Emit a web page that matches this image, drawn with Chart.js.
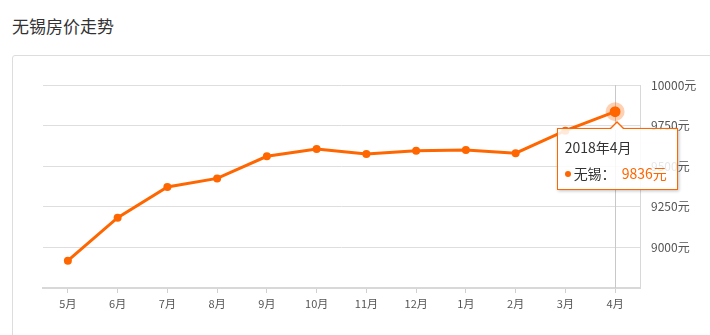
<!DOCTYPE html>
<html>
<head>
<meta charset="utf-8">
<script src="https://cdn.jsdelivr.net/npm/chart.js@4.4.0/dist/chart.umd.min.js"></script>
<style>
  html, body { margin:0; padding:0; width:710px; height:335px; overflow:hidden; background:#fff; font-family:"Noto Sans CJK SC", sans-serif; }
  #title { position:absolute; left:12px; top:14px; font-size:17px; color:#333; line-height:24px; }
  #card { position:absolute; left:12px; top:55px; width:730px; height:320px; border:1px solid #ddd; border-radius:3px; box-sizing:border-box; }
  #c { position:absolute; left:0; top:0; }
  #tip { position:absolute; display:none; width:121px; height:62px; box-sizing:border-box; background:rgba(255,255,255,0.86); border:1px solid #ff6600; box-shadow:1px 1px 3px rgba(0,0,0,0.25); font-size:14px; color:#333; pointer-events:none; }
  #tip:before, #tip:after { content:""; position:absolute; left:50%; width:0; height:0; border-style:solid; }
  #tip:before { top:-8px; margin-left:-8px; border-width:0 8px 8px 8px; border-color:transparent transparent #ff6600 transparent; }
  #tip:after { top:-6px; margin-left:-7px; border-width:0 7px 7px 7px; border-color:transparent transparent #fff transparent; }
  #tip .t { position:absolute; left:7px; top:8px; line-height:20px; white-space:nowrap; }
  #tip .b { position:absolute; left:7px; top:34px; line-height:20px; white-space:nowrap; }
  #tip .dot { display:inline-block; width:6px; height:6px; border-radius:3px; background:#ff6600; vertical-align:middle; margin-right:3px; margin-top:-2px; }
  #tip .v { color:#ff6600; margin-left:6px; }
</style>
</head>
<body>
<div id="title">无锡房价走势</div>
<div id="card"></div>
<canvas id="c" width="710" height="335"></canvas>
<div id="tip"></div>
<script>
const categories = ["5月","6月","7月","8月","9月","10月","11月","12月","1月","2月","3月","4月"];
const tooltipTitles = ["2017年5月","2017年6月","2017年7月","2017年8月","2017年9月","2017年10月","2017年11月","2017年12月","2018年1月","2018年2月","2018年3月","2018年4月"];
const seriesName = "无锡";
const prices = [8918, 9183, 9372, 9425, 9561, 9606, 9575, 9595, 9600, 9580, 9719, 9836];
const yTicks = [9000, 9250, 9500, 9750, 10000];
const unit = "元";
const activeIndex = 11;

const ORANGE = "#ff6600";

const crosshair = {
  id: "crosshair",
  beforeDatasetsDraw(chart) {
    const act = chart.getActiveElements();
    if (!act.length) return;
    const x = act[0].element.x;
    const {top, bottom} = chart.chartArea;
    const ctx = chart.ctx;
    ctx.save();
    ctx.strokeStyle = "#c8c8c8";
    ctx.lineWidth = 1;
    ctx.beginPath();
    ctx.moveTo(Math.round(x) + 0.5, top);
    ctx.lineTo(Math.round(x) + 0.5, bottom);
    ctx.stroke();
    ctx.restore();
  },
  afterDatasetsDraw(chart) {
    const act = chart.getActiveElements();
    if (!act.length) return;
    const el = act[0].element;
    const ctx = chart.ctx;
    ctx.save();
    ctx.strokeStyle = "rgba(255,102,0,0.3)";
    ctx.lineWidth = 4;
    ctx.beginPath();
    ctx.arc(el.x, el.y, 7.5, 0, Math.PI * 2);
    ctx.stroke();
    ctx.restore();
  }
};

function externalTip(context) {
  const tip = document.getElementById("tip");
  const tm = context.tooltip;
  if (tm.opacity === 0 || !tm.dataPoints || !tm.dataPoints.length) { tip.style.display = "none"; return; }
  const dp = tm.dataPoints[0];
  tip.innerHTML = '<div class="t">' + tooltipTitles[dp.dataIndex] + '</div>' +
    '<div class="b"><span class="dot"></span>' + seriesName + '：<span class="v">' + prices[dp.dataIndex] + unit + '</span></div>';
  tip.style.display = "block";
  tip.style.left = (tm.caretX - 58.5) + "px";
  tip.style.top = (tm.caretY + 16.5) + "px";
}

const chart = new Chart(document.getElementById("c"), {
  type: "line",
  data: {
    labels: categories,
    datasets: [{
      label: seriesName,
      data: prices,
      borderColor: ORANGE,
      backgroundColor: ORANGE,
      borderWidth: 3,
      pointRadius: 4,
      pointBackgroundColor: ORANGE,
      pointBorderColor: ORANGE,
      pointBorderWidth: 0,
      pointHoverRadius: 5.5,
      pointHoverBorderWidth: 0,
      pointHoverBackgroundColor: ORANGE,
      tension: 0,
      fill: false
    }]
  },
  options: {
    responsive: false,
    animation: false,
    layout: { padding: { left: 43, top: 85, right: 0, bottom: 0 } },
    interaction: { mode: "index", intersect: false },
    plugins: {
      legend: { display: false },
      tooltip: { enabled: false, external: externalTip }
    },
    scales: {
      x: {
        offset: true,
        grid: { display: true, drawOnChartArea: false, drawTicks: true, tickLength: 5, color: "#d0d0d0", offset: false },
        border: { display: true, color: "#d8d8d8", width: 2 },
        ticks: { color: "#555", font: { size: 11, family: "Noto Sans CJK SC" }, padding: 4, maxRotation: 0, autoSkip: false },
        afterFit(scale) { scale.height = 47; }
      },
      y: {
        position: "right",
        min: 8750,
        max: 10000,
        grid: { color: "#dedede", drawTicks: false, lineWidth: 1 },
        border: { display: true, color: "#d8d8d8", width: 1 },
        afterBuildTicks(scale) { scale.ticks = [8750].concat(yTicks).map(v => ({ value: v })); },
        ticks: {
          color: "#555",
          font: { size: 12, family: "Noto Sans CJK SC" },
          padding: 11,
          crossAlign: "near",
          callback: (v) => (yTicks.includes(v) ? v + unit : "")
        },
        afterFit(scale) { scale.width = 70; }
      }
    }
  },
  plugins: [crosshair]
});

const meta = chart.getDatasetMeta(0);
const pt = meta.data[activeIndex];
const active = [{ datasetIndex: 0, index: activeIndex }];
chart.setActiveElements(active);
chart.tooltip.setActiveElements(active, { x: pt.x, y: pt.y });
chart.update("none");
</script>
</body>
</html>
